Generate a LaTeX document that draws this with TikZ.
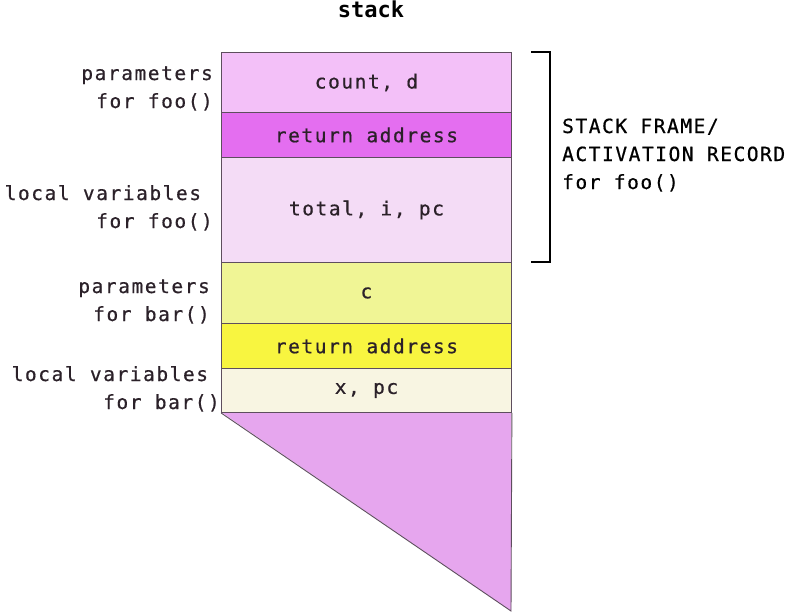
\documentclass[tikz,border=0pt]{standalone}
\usepackage{fontspec}
\newfontfamily\monof[LetterSpace=8,FakeBold=0.6]{DejaVu Sans Mono}
\newfontfamily\monob{DejaVu Sans Mono Bold}
\definecolor{txt}{HTML}{2B2129}
\definecolor{edge}{HTML}{5E4E5E}
\definecolor{cA}{HTML}{F3C0F8}
\definecolor{cB}{HTML}{E46EF0}
\definecolor{cC}{HTML}{F4DCF6}
\definecolor{cD}{HTML}{F0F595}
\definecolor{cE}{HTML}{F8F540}
\definecolor{cF}{HTML}{F8F5E2}
\definecolor{cG}{HTML}{E6A6EE}
\begin{document}
\begin{tikzpicture}[x=1pt,y=-1pt,
  every node/.style={font=\monof\fontsize{19.5}{28}\selectfont, text=txt, inner sep=0pt},
  cell/.style={draw=edge, line width=0.9pt, minimum width=290pt, anchor=north west},
  lbl/.style={align=right, anchor=base east},
  rlbl/.style={align=left, anchor=base west}]
\useasboundingbox (0,0) rectangle (791,613);
% bottom free area
\fill[cG] (221,412) -- (511,412) -- (511,611) -- cycle;
\node[cell, fill=cA, minimum height=60pt] (p1) at (221,52) {count, d};
\node[cell, fill=cB, minimum height=45pt] (r1) at (221,112) {return address};
\node[cell, fill=cC, minimum height=105pt] (l1) at (221,157) {total, i, pc};
\node[cell, fill=cD, minimum height=61pt] (p2) at (221,262) {c};
\node[cell, fill=cE, minimum height=45pt] (r2) at (221,323) {return address};
\node[cell, fill=cF, minimum height=44pt] (l2) at (221,368) {x, pc};
\coordinate (tip) at (511,611);
\draw[edge, line width=0.9pt] (l2.south west) -- (tip) -- (l2.south east);
% title
\node[font=\monob\fontsize{22}{28}\selectfont, text=black, anchor=base] (title) at (371,17) {stack};
% left labels
\node[lbl] (lp1) at (213,108) {parameters\\for foo()};
\node[lbl] (ll1) at (213,228) {local variables\hphantom{x}\\for foo()};
\node[lbl] (lp2) at (210,321) {parameters\\for bar()};
\node[lbl] (ll2) at (220,409) {local variables\hphantom{x}\\for bar()};
% bracket
\coordinate (bt) at (531,52);
\coordinate (bb) at (531,262);
\draw[black, line width=1.8pt] (bt) -| (550,262) -- (bb);
\node[rlbl, text=black] (frame) at (562,189) {STACK FRAME/\\ACTIVATION RECORD\\for foo()};
\end{tikzpicture}
\end{document}
